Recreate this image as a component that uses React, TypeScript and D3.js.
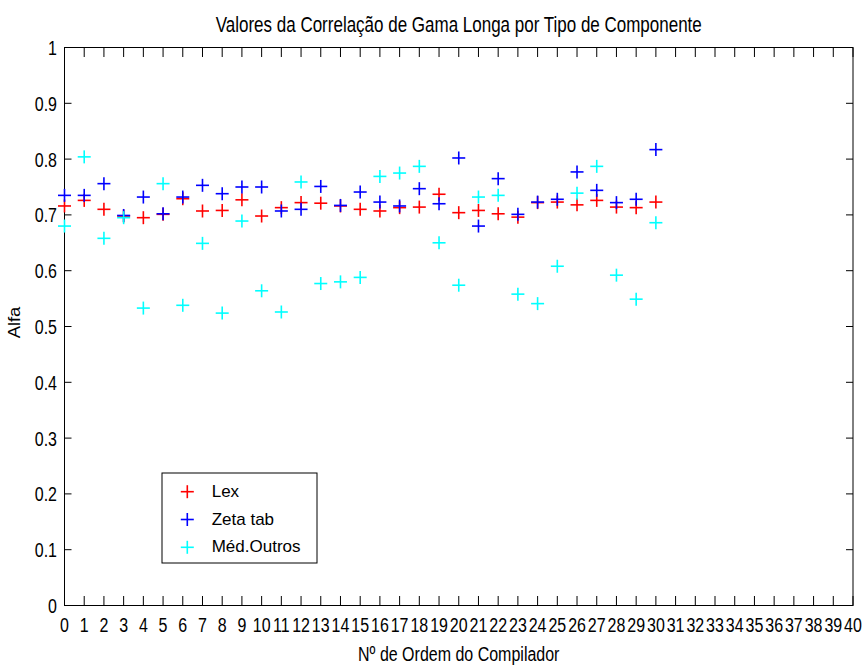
import React from "react";
import * as d3 from "d3";

// Compiler order numbers 0..30
const compilers = d3.range(0, 31);

// Alpha values per component type
const lexValues = [
  0.716, 0.726, 0.71, 0.698, 0.695, 0.701, 0.729, 0.707, 0.708, 0.727, 0.698,
  0.713, 0.722, 0.721, 0.716, 0.71, 0.707, 0.713, 0.714, 0.737, 0.704, 0.708,
  0.702, 0.696, 0.722, 0.723, 0.718, 0.726, 0.714, 0.713, 0.723,
];
const zetaValues = [
  0.735, 0.735, 0.756, 0.699, 0.732, 0.702, 0.732, 0.753, 0.738, 0.75, 0.75,
  0.707, 0.71, 0.751, 0.717, 0.741, 0.723, 0.716, 0.747, 0.72, 0.802, 0.68,
  0.765, 0.701, 0.723, 0.728, 0.777, 0.744, 0.722, 0.728, 0.817,
];
const outrosValues = [
  0.68, 0.804, 0.658, 0.695, 0.533, 0.756, 0.538, 0.649, 0.524, 0.689, 0.564,
  0.526, 0.759, 0.577, 0.58, 0.588, 0.769, 0.775, 0.787, 0.65, 0.574, 0.732,
  0.735, 0.558, 0.541, 0.608, 0.739, 0.787, 0.592, 0.549, 0.686,
];

const seriesNames = ["Lex", "Zeta tab", "Méd.Outros"];
const seriesColors = ["#ff0000", "#0000ff", "#00ffff"];
const seriesValues = [lexValues, zetaValues, outrosValues];

const xTicks = d3.range(0, 41);
const yTicks = d3.range(0, 11).map((d) => d / 10);

const W = 865;
const H = 665;
const left = 64.5;
const right = 853;
const top = 47.5;
const bottom = 605.5;

const FONT = "'Liberation Sans', Arial, sans-serif";
const VSTRETCH = 1.3;

function Cross({ x, y, color, size }: { x: number; y: number; color: string; size: number }) {
  const h = size / 2;
  return (
    <g stroke={color} strokeWidth={1.6}>
      <line x1={x - h} x2={x + h} y1={y} y2={y} />
      <line x1={x} x2={x} y1={y - h} y2={y + h} />
    </g>
  );
}

export default function App() {
  const x = d3.scaleLinear().domain([0, 40]).range([left, right]);
  const y = d3.scaleLinear().domain([0, 1]).range([bottom, top]);
  const tickX = 9.5;
  const tickY = 7;

  return (
    <svg
      width={W}
      height={H}
      style={{ position: "absolute", left: 0, top: 0, background: "#fff" }}
      fontFamily={FONT}
    >
      <rect width={W} height={H} fill="#fff" />

      {/* title */}
      <text
        transform={`translate(${(left + right) / 2},31.7) scale(1,${VSTRETCH})`}
        textAnchor="middle"
        fontSize={17}
        fill="#000"
      >
        Valores da Correlação de Gama Longa por Tipo de Componente
      </text>

      {/* axes box */}
      <rect
        x={left}
        y={top}
        width={right - left}
        height={bottom - top}
        fill="none"
        stroke="#000"
        strokeWidth={1}
      />

      {/* x ticks (bottom and top, pointing inward) */}
      {xTicks.map((t) => (
        <g key={"xt" + t}>
          <line x1={x(t)} x2={x(t)} y1={bottom} y2={bottom - tickX} stroke="#000" />
          <line x1={x(t)} x2={x(t)} y1={top} y2={top + tickX} stroke="#000" />
          <text
            transform={`translate(${x(t)},631.7) scale(1,${VSTRETCH})`}
            textAnchor="middle"
            fontSize={16}
            fill="#000"
          >
            {t}
          </text>
        </g>
      ))}

      {/* y ticks (left and right, pointing inward) */}
      {yTicks.map((t) => (
        <g key={"yt" + t}>
          <line x1={left} x2={left + tickY} y1={y(t)} y2={y(t)} stroke="#000" />
          <line x1={right} x2={right - tickY} y1={y(t)} y2={y(t)} stroke="#000" />
          <text
            transform={`translate(57,${y(t) + 7.5}) scale(1,${VSTRETCH})`}
            textAnchor="end"
            fontSize={16}
            fill="#000"
          >
            {d3.format("~g")(t)}
          </text>
        </g>
      ))}

      {/* axis labels */}
      <text
        transform={`translate(${(left + right) / 2},661) scale(1,${VSTRETCH})`}
        textAnchor="middle"
        fontSize={16}
        fill="#000"
      >
        Nº de Ordem do Compilador
      </text>
      <text
        transform={`translate(20,322.5) rotate(-90) scale(1.13,1)`}
        textAnchor="middle"
        fontSize={16.3}
        fill="#000"
      >
        Alfa
      </text>

      {/* data markers */}
      {seriesValues.map((vals, si) => (
        <g key={"s" + si}>
          {vals.map((v, i) => (
            <Cross key={i} x={x(compilers[i])} y={y(v)} color={seriesColors[si]} size={13} />
          ))}
        </g>
      ))}

      {/* legend */}
      <g>
        <rect x={162} y={473} width={155} height={90} fill="#fff" stroke="#000" strokeWidth={1} />
        {seriesNames.map((name, i) => (
          <g key={name}>
            <Cross x={187.3} y={491.7 + i * 27.8} color={seriesColors[i]} size={13} />
            <text x={211.7} y={497.3 + i * 27.2} fontSize={17} fill="#000">
              {name}
            </text>
          </g>
        ))}
      </g>
    </svg>
  );
}
